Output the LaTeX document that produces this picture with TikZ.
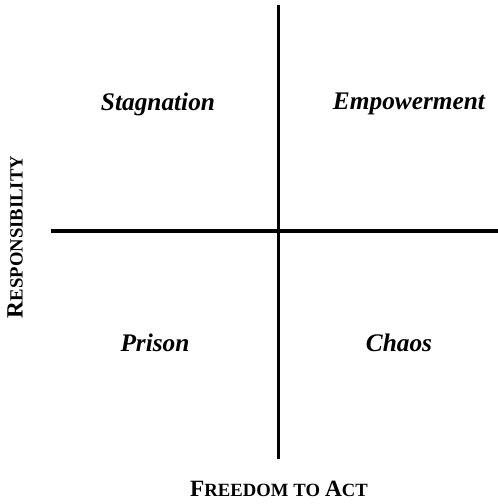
\documentclass[tikz,border=0pt]{standalone}
\usepackage{fontspec}
\setmainfont{Liberation Serif}
\usetikzlibrary{positioning}

% fake small caps: big first letter, smaller upper case rest
\newcommand{\capword}[2]{{\fontsize{17.5}{18}\selectfont #1}{\fontsize{14}{15}\selectfont #2}}

\begin{document}
\begin{tikzpicture}[x=0.75pt,y=-0.75pt,
        axis/.style={line width=2.6pt},
        quadrant/.style={font=\fontsize{19}{21}\selectfont\bfseries\itshape},
        axislabel/.style={font=\fontsize{15}{17}\selectfont\bfseries}]
        \useasboundingbox (0, 0) rectangle (498, 504);
        % the two axes
        \coordinate (top) at (278.5, 5);
        \coordinate (bottom) at (278.5, 459);
        \coordinate (left) at (51, 231);
        \coordinate (right) at (498, 231);
        \draw[axis] (top) -- (bottom);
        \draw[axis] (left) -- (right);
        % quadrants
        \node[quadrant] (stag) at (158, 104) {Stagnation};
        \node[quadrant] (emp) at (409, 104) {Empowerment};
        \node[quadrant] (prison) at (155, 343) {Prison};
        \node[quadrant] (chaos) at (399, 343) {Chaos};
        % axis names
        \node[axislabel, rotate=90] (resp) at (15, 237) {\capword{R}{ESPONSIBILITY}};
        \node[axislabel] (freedom) at (279, 489) {\capword{F}{REEDOM} \capword{}{TO} \capword{A}{CT}};
    \end{tikzpicture}
\end{document}
